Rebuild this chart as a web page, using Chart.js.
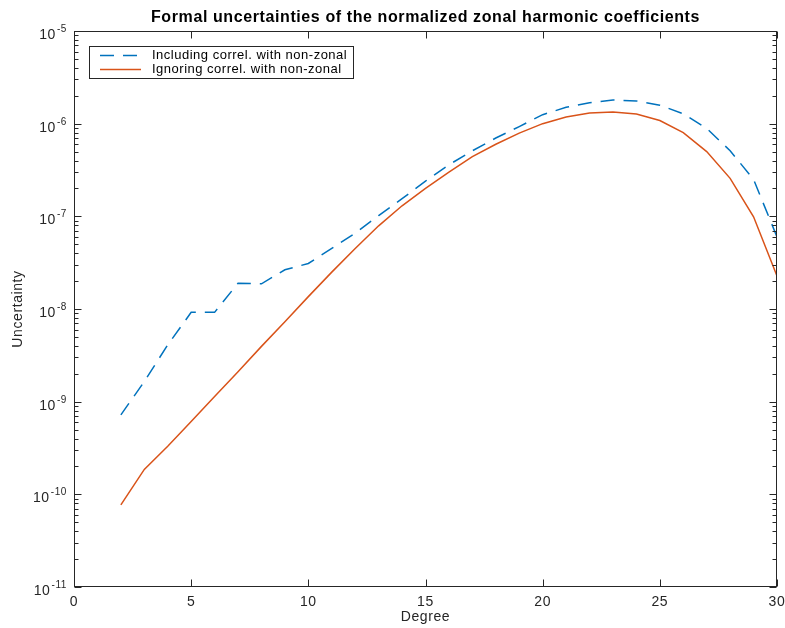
<!DOCTYPE html>
<html>
<head>
<meta charset="utf-8">
<script src="https://cdn.jsdelivr.net/npm/chart.js@4.4.1/dist/chart.umd.min.js"></script>
<style>
  html, body { margin: 0; padding: 0; background: #fff; }
  #wrap { width: 785px; height: 628px; }
</style>
</head>
<body>
<div id="wrap"><canvas id="myChart" width="785" height="628"></canvas></div>
<script>
// degree of the zonal coefficient
const degrees = [2, 3, 4, 5, 6, 7, 8, 9, 10, 11, 12, 13, 14, 15, 16,
  17, 18, 19, 20, 21, 22, 23, 24, 25, 26, 27, 28, 29, 30];

// including correlation with non-zonal (dashed)
const withNonZonal = [7.2e-10, 1.65e-9, 4.1e-9, 9.2e-9, 9.2e-9, 1.9e-8, 1.87e-8, 2.65e-8, 3.1e-8,
  4.5e-8, 6.6e-8, 1.02e-7, 1.55e-7, 2.4e-7, 3.6e-7, 5.1e-7, 7.0e-7, 9.3e-7, 1.25e-6,
  1.5e-6, 1.68e-6, 1.8e-6, 1.76e-6, 1.58e-6, 1.28e-6, 8.9e-7, 5.1e-7, 2.5e-7, 6.0e-8];

// ignoring correlation with non-zonal (solid)
const ignoringNonZonal = [7.7e-11, 1.86e-10, 3.3e-10, 6.1e-10, 1.14e-9, 2.1e-9, 3.95e-9, 7.3e-9, 1.36e-8,
  2.5e-8, 4.5e-8, 7.9e-8, 1.3e-7, 2.0e-7, 3.0e-7, 4.4e-7, 6.0e-7, 7.9e-7, 1.0e-6,
  1.18e-6, 1.3e-6, 1.34e-6, 1.27e-6, 1.08e-6, 8.0e-7, 5.0e-7, 2.57e-7, 9.9e-8, 2.27e-8];

const xTicks = [0, 5, 10, 15, 20, 25, 30];
const yExponents = [-11, -10, -9, -8, -7, -6, -5];

const seriesLabels = ["Including correl. with non-zonal", "Ignoring correl. with non-zonal"];

const FONT = "'Liberation Sans', Arial, Helvetica, sans-serif";
const AXIS = "#262626";

// matlab-like box, inward ticks, 10^n labels and legend
const matlabAxes = {
  id: "matlabAxes",
  beforeUpdate(chart) {
    chart.ctx.letterSpacing = "0.6px";
  },
  beforeDraw(chart) {
    chart.ctx.letterSpacing = "0.6px";
  },
  afterDraw(chart) {
    const { ctx, chartArea: a, scales } = chart;
    const x = scales.x, y = scales.y;
    const L = Math.round(a.left) + 0.5, R = Math.round(a.right) - 0.5;
    const T = Math.round(a.top) + 0.5, B = Math.round(a.bottom) - 0.5;

    ctx.save();
    ctx.strokeStyle = AXIS;
    ctx.lineWidth = 1;
    ctx.strokeRect(L, T, R - L, B - T);

    ctx.beginPath();
    // x ticks bottom and top
    xTicks.forEach((v) => {
      const px = Math.round(x.getPixelForValue(v)) + 0.5;
      ctx.moveTo(px, B); ctx.lineTo(px, B - 7);
      ctx.moveTo(px, T); ctx.lineTo(px, T + 7);
    });
    // y major and minor ticks on both sides
    yExponents.forEach((e, i) => {
      const py = Math.round(y.getPixelForValue(Math.pow(10, e))) + 0.5;
      ctx.moveTo(L, py); ctx.lineTo(L + 7, py);
      ctx.moveTo(R, py); ctx.lineTo(R - 7, py);
      if (i < yExponents.length - 1) {
        for (let m = 2; m <= 9; m++) {
          const pm = Math.round(y.getPixelForValue(m * Math.pow(10, e))) + 0.5;
          ctx.moveTo(L, pm); ctx.lineTo(L + 4, pm);
          ctx.moveTo(R, pm); ctx.lineTo(R - 4, pm);
        }
      }
    });
    ctx.stroke();

    // y tick labels 10^e
    ctx.fillStyle = AXIS;
    ctx.textBaseline = "alphabetic";
    yExponents.forEach((e) => {
      const py = y.getPixelForValue(Math.pow(10, e));
      const sup = String(e);
      ctx.font = "10px " + FONT;
      const w = ctx.measureText(sup).width;
      ctx.textAlign = "left";
      ctx.fillText(sup, 67 - w, py + 1);
      ctx.font = "14px " + FONT;
      ctx.textAlign = "right";
      ctx.fillText("10", 67 - w - 1, py + 8);
    });

    // legend box
    const lx = 89.5, ly = 46.5, lw = 264, lh = 32;
    ctx.fillStyle = "#fff";
    ctx.fillRect(lx, ly, lw, lh);
    ctx.strokeStyle = AXIS;
    ctx.strokeRect(lx, ly, lw, lh);
    chart.data.datasets.forEach((ds, i) => {
      const ry = 55.5 + i * 14;
      ctx.save();
      ctx.strokeStyle = ds.borderColor;
      ctx.lineWidth = ds.borderWidth;
      ctx.setLineDash(ds.borderDash || []);
      ctx.beginPath();
      ctx.moveTo(100, ry); ctx.lineTo(141, ry);
      ctx.stroke();
      ctx.restore();
      ctx.fillStyle = "#000";
      ctx.font = "13px " + FONT;
      ctx.letterSpacing = "0.5px";
      ctx.textAlign = "left";
      ctx.textBaseline = "middle";
      ctx.fillText(ds.label, 152, ry);
    });
    ctx.restore();
  },
};

function initChart() {
  const config = {
    type: "line",
    data: {
      datasets: [
        {
          label: seriesLabels[0],
          data: degrees.map((d, i) => ({ x: d, y: withNonZonal[i] })),
          borderColor: "rgb(0,114,189)",
          borderWidth: 1.5,
          borderDash: [14, 9],
          pointRadius: 0,
          tension: 0,
          fill: false,
        },
        {
          label: seriesLabels[1],
          data: degrees.map((d, i) => ({ x: d, y: ignoringNonZonal[i] })),
          borderColor: "rgb(217,83,25)",
          borderWidth: 1.5,
          pointRadius: 0,
          tension: 0,
          fill: false,
        },
      ],
    },
    options: {
      responsive: false,
      animation: false,
      devicePixelRatio: 1,
      layout: { padding: { left: 0, right: 8, top: 0, bottom: 0 } },
      plugins: {
        legend: { display: false },
        tooltip: { enabled: false },
        title: {
          display: true,
          fullSize: false,
          text: "Formal uncertainties of the normalized zonal harmonic coefficients",
          color: "#000",
          font: { family: FONT, size: 16, weight: "bold" },
          padding: { top: 8, bottom: 3.8 },
        },
      },
      scales: {
        x: {
          type: "linear",
          min: 0,
          max: 30,
          grid: { display: false },
          border: { display: false },
          ticks: {
            stepSize: 5,
            color: AXIS,
            padding: -1,
            maxRotation: 0,
            font: { family: FONT, size: 14 },
          },
          title: {
            display: true,
            text: "Degree",
            color: AXIS,
            font: { family: FONT, size: 14 },
            padding: { top: 0, bottom: 2 },
          },
          afterFit: (s) => {
            s.height = 41;
            s.paddingLeft = 0;
            s.paddingRight = 0;
          },
        },
        y: {
          type: "logarithmic",
          min: 1e-11,
          max: 1e-5,
          grid: { display: false },
          border: { display: false },
          ticks: { display: false },
          title: {
            display: true,
            text: "Uncertainty",
            color: AXIS,
            font: { family: FONT, size: 14 },
            padding: { top: 10, bottom: 0 },
          },
          afterFit: (s) => {
            s.width = 74;
            s.paddingTop = 0;
            s.paddingBottom = 0;
          },
        },
      },
    },
    plugins: [matlabAxes],
  };

  const ctx = document.getElementById("myChart").getContext("2d");
  return new Chart(ctx, config);
}

const myChart = initChart();
</script>
</body>
</html>
